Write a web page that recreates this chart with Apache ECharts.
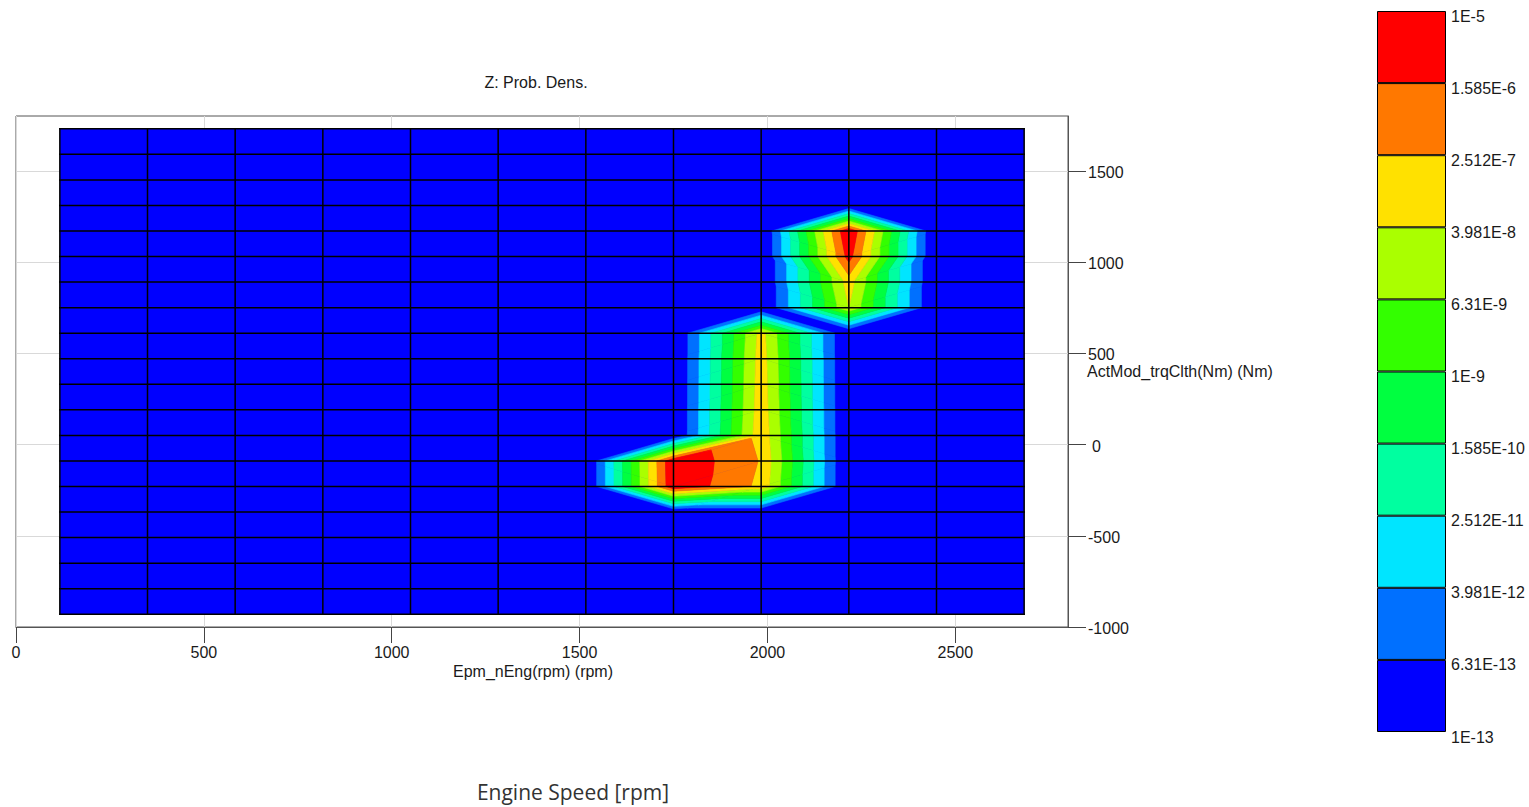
<!DOCTYPE html>
<html>
<head>
<meta charset="utf-8">
<script src="https://cdn.jsdelivr.net/npm/echarts@6/dist/echarts.min.js"></script>
<style>
html, body { margin: 0; padding: 0; background: #fff; }
#chart { width: 1529px; height: 807px; }
</style>
</head>
<body>
<div id="chart"></div>
<script>
// ---------------- data ----------------
// histogram bin centres (engine speed, rpm) and (clutch torque, Nm)
const engineSpeedBins = [116.7, 350, 583.3, 816.7, 1050, 1283.3, 1516.7, 1750, 1983.3, 2216.7, 2450, 2683.3];
const torqueBins = [-930, -790, -650, -510, -370, -230, -90, 50, 190, 330, 470, 610, 750, 890, 1030, 1170, 1310, 1450, 1590, 1730];

// probability density, one row per torque bin (bottom to top), one column per engine speed bin
const density = [
  [0, 0, 0, 0, 0, 0, 0, 0, 0, 0, 0, 0],            // -930
  [0, 0, 0, 0, 0, 0, 0, 0, 0, 0, 0, 0],            // -790
  [0, 0, 0, 0, 0, 0, 0, 0, 0, 0, 0, 0],            // -650
  [0, 0, 0, 0, 0, 0, 0, 0, 0, 0, 0, 0],            // -510
  [0, 0, 0, 0, 0, 0, 0, 0, 0, 0, 0, 0],            // -370
  [0, 0, 0, 0, 0, 0, 0, 7.9e-6, 1.6e-7, 0, 0, 0],  // -230
  [0, 0, 0, 0, 0, 0, 0, 8.9e-6, 2.2e-7, 0, 0, 0],  // -90
  [0, 0, 0, 0, 0, 0, 0, 0, 1.6e-7, 0, 0, 0],       // 50
  [0, 0, 0, 0, 0, 0, 0, 0, 1.26e-7, 0, 0, 0],      // 190
  [0, 0, 0, 0, 0, 0, 0, 0, 1.1e-7, 0, 0, 0],       // 330
  [0, 0, 0, 0, 0, 0, 0, 0, 1.0e-7, 0, 0, 0],       // 470
  [0, 0, 0, 0, 0, 0, 0, 0, 7.9e-8, 0, 0, 0],       // 610
  [0, 0, 0, 0, 0, 0, 0, 0, 0, 4.0e-8, 0, 0],       // 750
  [0, 0, 0, 0, 0, 0, 0, 0, 0, 1.0e-7, 0, 0],       // 890
  [0, 0, 0, 0, 0, 0, 0, 0, 0, 3.5e-6, 0, 0],       // 1030
  [0, 0, 0, 0, 0, 0, 0, 0, 0, 1.0e-5, 0, 0],       // 1170
  [0, 0, 0, 0, 0, 0, 0, 0, 0, 0, 0, 0],            // 1310
  [0, 0, 0, 0, 0, 0, 0, 0, 0, 0, 0, 0],            // 1450
  [0, 0, 0, 0, 0, 0, 0, 0, 0, 0, 0, 0],            // 1590
  [0, 0, 0, 0, 0, 0, 0, 0, 0, 0, 0, 0]             // 1730
];

const xTickValues = [0, 500, 1000, 1500, 2000, 2500];
const yTickValues = [-1000, -500, 0, 500, 1000, 1500];
const levelLabels = ['1E-13', '6.31E-13', '3.981E-12', '2.512E-11', '1.585E-10', '1E-9', '6.31E-9', '3.981E-8', '2.512E-7', '1.585E-6', '1E-5'];
const levelColors = ['#0000ff', '#0070ff', '#00e5ff', '#00ffa0', '#00ff40', '#33ff00', '#aaff00', '#ffe100', '#ff7800', '#ff0000'];
const belowScaleDensity = 6.31e-14; // empty bins are shaded as this density

// ---------------- helpers ----------------
const logLevels = levelLabels.map(s => Math.log10(parseFloat(s)));
function logDensity(i, j) {
  return Math.log10(Math.max(density[j][i], belowScaleDensity));
}

// triangulate the node mesh (split along the diagonal with the smaller jump)
const triangles = [];
for (let j = 0; j < torqueBins.length - 1; j++) {
  for (let i = 0; i < engineSpeedBins.length - 1; i++) {
    const a = [i, j], b = [i + 1, j], c = [i + 1, j + 1], d = [i, j + 1];
    const dAC = Math.abs(logDensity(i, j) - logDensity(i + 1, j + 1));
    const dBD = Math.abs(logDensity(i + 1, j) - logDensity(i, j + 1));
    const tris = dAC <= dBD ? [[a, b, c], [a, c, d]] : [[a, b, d], [b, c, d]];
    tris.forEach(t => {
      const vmax = Math.max(...t.map(n => logDensity(n[0], n[1])));
      if (vmax >= logLevels[1]) triangles.push(t);
    });
  }
}

function clipPoly(pts, level, keepAbove) {
  const out = [];
  for (let k = 0; k < pts.length; k++) {
    const a = pts[k], b = pts[(k + 1) % pts.length];
    const ain = keepAbove ? a.v >= level : a.v < level;
    const bin = keepAbove ? b.v >= level : b.v < level;
    if (ain) out.push(a);
    if (ain !== bin) {
      const t = (level - a.v) / (b.v - a.v);
      out.push({ x: a.x + t * (b.x - a.x), y: a.y + t * (b.y - a.y), v: level });
    }
  }
  return out;
}

function renderBackground(params, api) {
  const p0 = api.coord([engineSpeedBins[0], torqueBins[0]]);
  const p1 = api.coord([engineSpeedBins[engineSpeedBins.length - 1], torqueBins[torqueBins.length - 1]]);
  return {
    type: 'rect',
    shape: { x: p0[0], y: p1[1], width: p1[0] - p0[0], height: p0[1] - p1[1] },
    style: { fill: levelColors[0] }
  };
}

function renderTriangle(params, api) {
  const tri = triangles[params.dataIndex];
  const pts = tri.map(n => {
    const p = api.coord([engineSpeedBins[n[0]], torqueBins[n[1]]]);
    return { x: p[0], y: p[1], v: logDensity(n[0], n[1]) };
  });
  const children = [];
  for (let k = 1; k < levelColors.length; k++) {
    let poly = clipPoly(pts, logLevels[k], true);
    if (k < levelColors.length - 1 && poly.length) poly = clipPoly(poly, logLevels[k + 1], false);
    if (poly.length >= 3) {
      children.push({
        type: 'polygon',
        shape: { points: poly.map(p => [p.x, p.y]) },
        style: { fill: levelColors[k], stroke: levelColors[k], lineWidth: 0.6 }
      });
    }
  }
  return { type: 'group', children: children };
}

const gridLineItems = engineSpeedBins.map((x, i) => [x, torqueBins[0], 0])
  .concat(torqueBins.map((y, j) => [engineSpeedBins[0], y, 1]));

// bin lines drawn as thin filled strips centred on each bin centre
const LINE_W = 1.5;
function renderGridLine(params, api) {
  const item = gridLineItems[params.dataIndex];
  const lo = api.coord([engineSpeedBins[0], torqueBins[0]]);
  const hi = api.coord([engineSpeedBins[engineSpeedBins.length - 1], torqueBins[torqueBins.length - 1]]);
  const p = api.coord([item[0], item[1]]);
  const h = LINE_W / 2;
  if (item[2] === 0) {
    return { type: 'rect', shape: { x: p[0] - h, y: hi[1] - h, width: LINE_W, height: lo[1] - hi[1] + LINE_W }, style: { fill: '#000' } };
  }
  return { type: 'rect', shape: { x: lo[0] - h, y: p[1] - h, width: hi[0] - lo[0] + LINE_W, height: LINE_W }, style: { fill: '#000' } };
}

// ---------------- chart ----------------
const FONT = '"Liberation Sans", Arial, sans-serif';
const TXT = '#1a1a1a';
const chart = echarts.init(document.getElementById('chart'), null, { renderer: 'svg', width: 1529, height: 807 });

const colorbarSeries = levelColors.map((c, k) => ({
  type: 'bar',
  name: levelLabels[k],
  xAxisIndex: 1,
  yAxisIndex: 1,
  stack: 'colorbar',
  data: [1],
  barWidth: '100%',
  silent: true,
  itemStyle: { color: c, borderColor: '#000', borderWidth: 1 }
}));

chart.setOption({
  animation: false,
  backgroundColor: '#fff',
  textStyle: { fontFamily: FONT },
  grid: [
    { left: 16, top: 116, width: 1052, height: 511, show: true, borderColor: '#555', borderWidth: 1,
      backgroundColor: 'transparent', containLabel: false, outerBoundsMode: 'none' },
    { left: 1377, top: 11, width: 69, height: 721, show: false, containLabel: false, outerBoundsMode: 'none' }
  ],
  xAxis: [
    {
      gridIndex: 0, type: 'value', min: 0, max: 2800, interval: 500,
      axisLine: { show: true, onZero: false, lineStyle: { color: '#555', width: 1 } },
      axisTick: { show: true, length: 16, customValues: xTickValues, lineStyle: { color: '#444' } },
      axisLabel: { customValues: xTickValues, margin: 17, fontSize: 16, color: TXT, fontFamily: FONT,
        formatter: v => String(v) },
      splitLine: { show: true, lineStyle: { color: '#d9d9d9', width: 1 } },
      name: 'Epm_nEng(rpm) (rpm)', nameLocation: 'middle', nameGap: 36, nameMoveOverlap: false,
      nameTextStyle: { fontSize: 16, color: TXT, fontFamily: FONT, padding: [0, 18, 0, 0] }
    },
    { gridIndex: 1, type: 'category', data: [''], show: false }
  ],
  yAxis: [
    {
      gridIndex: 0, type: 'value', position: 'right', min: -1000, max: 1800, interval: 500,
      axisLine: { show: true, onZero: false, lineStyle: { color: '#555', width: 1 } },
      axisTick: { show: true, length: 18, customValues: yTickValues, lineStyle: { color: '#444' } },
      axisLabel: {
        customValues: yTickValues, margin: 20, fontSize: 16, color: TXT, fontFamily: FONT,
        formatter: v => (v === 0 ? '{z|0}' : '{n|' + v + '}'),
        rich: {
          z: { padding: [3, 0, 0, 4], fontSize: 16, color: TXT, fontFamily: FONT },
          n: { padding: [3, 0, 0, 0], fontSize: 16, color: TXT, fontFamily: FONT }
        }
      },
      splitLine: { show: true, lineStyle: { color: '#d9d9d9', width: 1 } },
      name: 'ActMod_trqClth(Nm) (Nm)', nameLocation: 'middle', nameRotate: 0, nameGap: 19, nameMoveOverlap: false,
      nameTextStyle: { fontSize: 16, color: TXT, fontFamily: FONT, align: 'left', verticalAlign: 'middle' }
    },
    {
      gridIndex: 1, type: 'value', position: 'right', min: 0, max: levelLabels.length - 1, interval: 1,
      axisLine: { show: false, onZero: false }, axisTick: { show: false }, splitLine: { show: false },
      axisLabel: {
        margin: 5, fontSize: 16, color: TXT, fontFamily: FONT, verticalAlign: 'middle',
        formatter: v => '{l|' + levelLabels[Math.round(v)] + '}',
        rich: { l: { padding: [10, 0, 0, 0], fontSize: 16, color: TXT, fontFamily: FONT } }
      }
    }
  ],
  series: [
    { type: 'custom', name: 'background', xAxisIndex: 0, yAxisIndex: 0, clip: false, silent: true,
      renderItem: renderBackground, data: [[engineSpeedBins[0], torqueBins[0]]] },
    { type: 'custom', name: 'Prob. Dens.', xAxisIndex: 0, yAxisIndex: 0, clip: false, silent: true,
      renderItem: renderTriangle,
      data: triangles.map(t => [
        t.reduce((s, n) => s + engineSpeedBins[n[0]], 0) / 3,
        t.reduce((s, n) => s + torqueBins[n[1]], 0) / 3
      ]) },
    { type: 'custom', name: 'bins', xAxisIndex: 0, yAxisIndex: 0, clip: false, silent: true,
      renderItem: renderGridLine, data: gridLineItems.map(g => [g[0], g[1]]) }
  ].concat(colorbarSeries),
  graphic: [
    { type: 'text', x: 536, y: 82, silent: true,
      style: { text: 'Z: Prob. Dens.', fontSize: 16, fontFamily: FONT, fill: TXT, align: 'center', verticalAlign: 'middle' } },
    { type: 'text', x: 573, y: 792, silent: true,
      style: { text: 'Engine Speed [rpm]', fontSize: 21, fontFamily: '"Open Sans", "DejaVu Sans", sans-serif', fill: '#333', align: 'center', verticalAlign: 'middle' } }
  ]
});
</script>
</body>
</html>
